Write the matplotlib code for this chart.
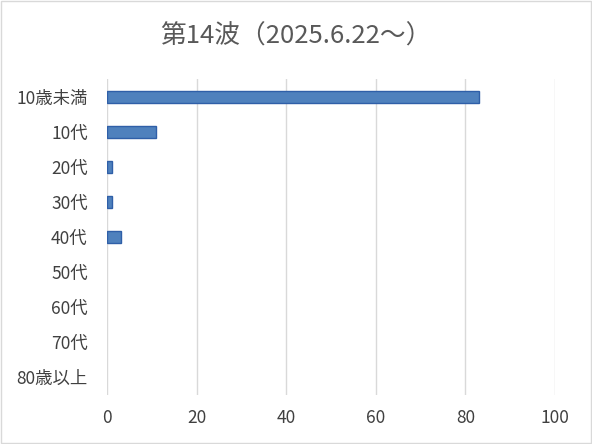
import matplotlib
matplotlib.use('Agg')
import matplotlib.pyplot as plt

plt.rcParams['font.family'] = ['Noto Sans CJK JP', 'DejaVu Sans']

# data
ages = ['10歳未満', '10代', '20代', '30代', '40代', '50代', '60代', '70代', '80歳以上']
counts = [83, 11, 1, 1, 3, 0, 0, 0, 0]
xticks = [0, 20, 40, 60, 80, 100]
title = '第14波（2025.6.22～）'

fig = plt.figure(figsize=(5.92, 4.44), dpi=100)
ax = fig.add_axes([0.181, 0.111, 0.7565, 0.71])

ypos = list(range(len(ages)))
bars = ax.barh(ypos, counts, height=0.34, color='#4F81BD', edgecolor='#2F5FA8', linewidth=1, zorder=3)
# zero-length bars leave no mark in the original
for b, v in zip(bars, counts):
    if v == 0:
        b.set_visible(False)

ax.set_xlim(0, 100)
ax.set_ylim(len(ages) - 0.5, -0.5)
ax.set_xticks(xticks)
ax.set_yticks(ypos)
ax.set_yticklabels(ages)
ax.grid(axis='x', color='#D9D9D9', linewidth=1, zorder=0)
for s in ax.spines.values():
    s.set_visible(False)
ax.tick_params(axis='both', length=0, labelsize=12.5, colors='#404040')
ax.tick_params(axis='x', pad=10)
ax.tick_params(axis='y', pad=14)

fig.text(0.5, 0.917, title, ha='center', va='center', fontsize=18.5, color='#595959')

# light frame around the chart area
fig.patches.append(plt.Rectangle((0.002, 0.002), 0.996, 0.996, transform=fig.transFigure,
                                 fill=False, edgecolor='#D9D9D9', linewidth=1))

fig.savefig('out.png', dpi=100)
